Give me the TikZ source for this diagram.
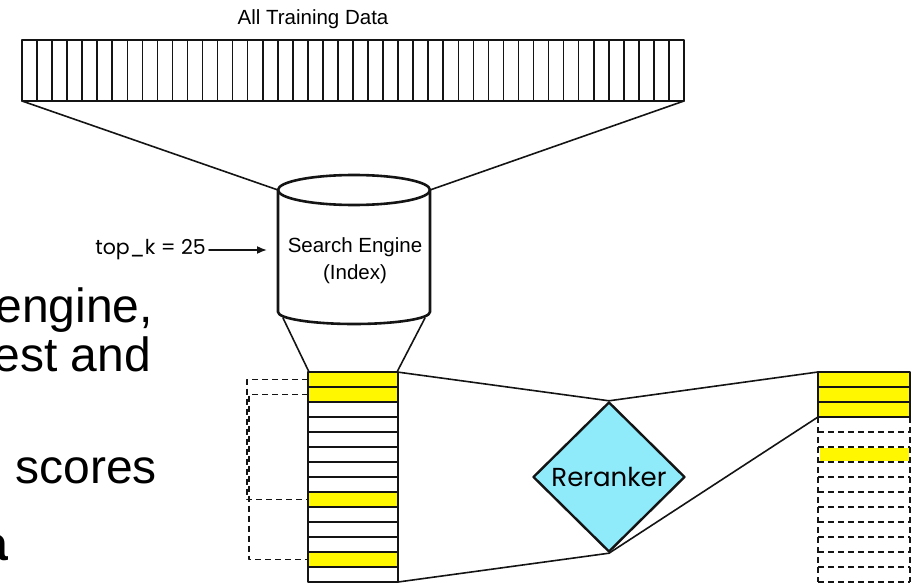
\documentclass[tikz,border=0pt]{standalone}
\usepackage{fontspec}
\setmainfont{Liberation Sans}
\newfontfamily\handfont{Poppins}
\usetikzlibrary{shapes.geometric,arrows.meta}
\definecolor{hl}{RGB}{255,247,0}
\definecolor{rrfill}{RGB}{143,234,250}
\definecolor{ink}{RGB}{20,20,20}
\begin{document}
\begin{tikzpicture}[x=1pt,y=-1pt, line join=round, line cap=round,
  box/.style={draw=ink, line width=2pt},
  thin/.style={draw=ink, line width=1.6pt},
  conn/.style={draw=ink, line width=1.6pt},
  dsh/.style={draw=ink, line width=1.5pt, dash pattern=on 6pt off 4pt, line cap=butt},
  lbl/.style={font=\fontsize{20.5}{27}\selectfont, text=black, align=center},
  big/.style={font=\fontsize{48}{52}\selectfont, anchor=base east, inner sep=0pt, text=black},
]
\useasboundingbox (0,0) rectangle (914,583);

% clipped slide text at the left
\begin{scope}
  \clip (0,0) rectangle (914,583);
  \node[big] (t1) at (153,322) {engine,};
  \node[big] (t2) at (151,371) {est and};
  \node[big] (t3) at (157,483) {scores};
  \node[big, font=\fontsize{48}{52}\selectfont\bfseries] (t4) at (8,560) {a};
\end{scope}

% ---------- All training data bar ----------
\node[lbl] (title) at (313,19) {All Training Data};
\draw[box] (22,40) rectangle (684,101);
\foreach \i in {1,...,43} {
  \draw[thin] ({22+\i*15.045},40) -- ({22+\i*15.045},101);
}
\coordinate (barBL) at (22,101);
\coordinate (barBR) at (684,101);

% ---------- search engine cylinder ----------
\coordinate (cylTL) at (278,190);
\coordinate (cylTR) at (430,190);
\coordinate (cylBL) at (283,318);
\coordinate (cylBR) at (425,318);
\draw[box, line width=2.6pt] (354,190) ellipse [x radius=76, y radius=15];
\draw[box, line width=2.6pt] (278,190) -- (278,312)
  arc[start angle=180, end angle=0, x radius=76, y radius=12] -- (430,190);
\node[lbl] (se) at (355,261) {Search Engine\\(Index)};
\draw[conn] (barBL) -- (cylTL);
\draw[conn] (barBR) -- (cylTR);

% top_k label and arrow
\node[font=\handfont\fontsize{20.5}{24}\selectfont, anchor=east, inner sep=3pt] (topk) at (209,250) {top\_k = 25};
\coordinate (arrE) at (267,250);
\draw[conn, -{Latex[length=10pt,width=8pt]}] (topk.east) -- (arrE);

% ---------- left stack (retrieved results) ----------
\foreach \r in {1,2,9,13} {
  \fill[hl] (308,{372+(\r-1)*15}) rectangle (398,{372+\r*15});
}
\foreach \r in {1,...,13} {
  \draw[thin] (308,{372+\r*15}) -- (398,{372+\r*15});
}
\draw[box] (308,372) rectangle (398,582);
\coordinate (lsTL) at (309,372);
\coordinate (lsTR) at (397,372);
\coordinate (lsBR) at (398,582);
\draw[conn] (cylBL) -- (lsTL);
\draw[conn] (cylBR) -- (lsTR);

% dashed brackets
\draw[dsh] (308,379.5) -- (247,379.5) -- (247,499.5) -- (308,499.5);
\draw[dsh] (308,394.5) -- (249,394.5) -- (249,559.5) -- (308,559.5);

% ---------- reranker ----------
\node[diamond, draw=ink, line width=2.4pt, fill=rrfill, minimum width=152pt, minimum height=150pt,
      inner sep=0pt, font=\handfont\fontsize{26}{30}\selectfont] (rr) at (609,477) {Reranker};
\draw[conn] (lsTR) -- (rr.north);
\draw[conn] (lsBR) -- (rr.south);

% ---------- right stack (reranked) ----------
\fill[hl] (818,372) rectangle (910,417);
\draw[thin] (818,387) -- (910,387);
\draw[thin] (818,402) -- (910,402);
\draw[box] (818,372) rectangle (910,417);
\fill[hl] (820,448) rectangle (909,461);
\foreach \r in {1,...,11} {
  \draw[dsh] (818,{417+\r*15}) -- (910,{417+\r*15});
}
\draw[dsh] (818,417) -- (818,582);
\draw[dsh] (910,417) -- (910,582);
\coordinate (rsTL) at (818,372);
\coordinate (rsSL) at (818,417);
\draw[conn] (rr.north) -- (rsTL);
\draw[conn] (rr.south) -- (rsSL);
\end{tikzpicture}
\end{document}
